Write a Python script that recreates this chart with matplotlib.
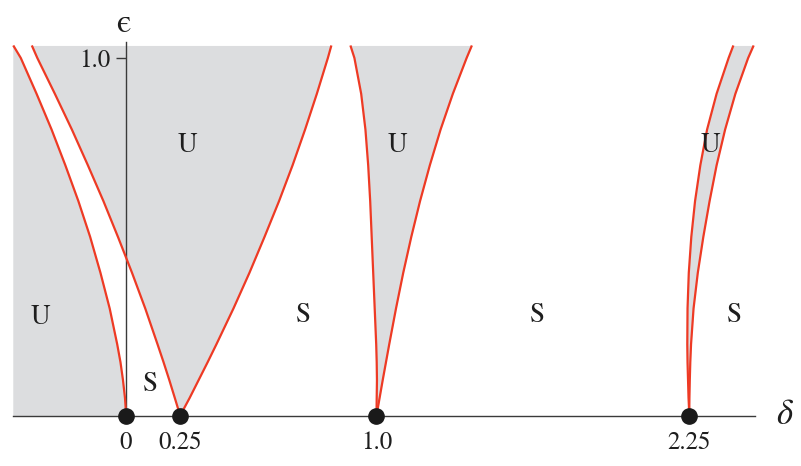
import matplotlib
matplotlib.use("Agg")
import matplotlib.pyplot as plt

plt.rcParams['font.family'] = ['STIXGeneral', 'DejaVu Serif']
plt.rcParams['mathtext.fontset'] = 'stix'

# --- data (delta values at each epsilon) ---
eps = [0, 0.02, 0.05, 0.1, 0.15, 0.2, 0.3, 0.4, 0.5, 0.6, 0.7, 0.8, 0.9, 1.0, 1.035]
curve_a = [0, -0.001, -0.004, -0.012, -0.022, -0.035, -0.065, -0.102, -0.143,
           -0.190, -0.242, -0.297, -0.357, -0.420, -0.450]                      # from 0
curve_b = [0.216, 0.208, 0.195, 0.173, 0.150, 0.126, 0.077, 0.024, -0.032,
           -0.090, -0.152, -0.216, -0.284, -0.354, -0.376]                      # 0.25 left
curve_c = [0.216, 0.231, 0.254, 0.290, 0.326, 0.361, 0.429, 0.493, 0.553,
           0.611, 0.665, 0.715, 0.762, 0.806, 0.820]                            # 0.25 right
curve_d = [1.0, 1.0005, 1.001, 1.002, 1.001, 0.999, 0.993, 0.987, 0.981,
           0.975, 0.967, 0.956, 0.939, 0.912, 0.896]                            # 1.0 left
curve_e = [1.0, 1.005, 1.0125, 1.025, 1.038, 1.051, 1.078, 1.107, 1.139,
           1.174, 1.213, 1.256, 1.305, 1.360, 1.381]                            # 1.0 right
curve_f = [2.249, 2.248, 2.246, 2.244, 2.242, 2.241, 2.242, 2.247, 2.257,
           2.272, 2.293, 2.320, 2.358, 2.406, 2.425]                            # 2.25 left
curve_g = [2.249, 2.249, 2.2495, 2.251, 2.253, 2.256, 2.266, 2.283, 2.305,
           2.330, 2.358, 2.392, 2.433, 2.484, 2.506]                            # 2.25 right

left_edge = -0.452
right_edge = 2.51

dot_x = [0, 0.216, 1.0, 2.249]
tick_labels = ['0', '0.25', '1.0', '2.25']

region_labels = ['U', 'S', 'U', 'S', 'U', 'S', 'U', 'S']
region_x = [-0.343, 0.096, 0.244, 0.707, 1.082, 1.641, 2.335, 2.431]
region_y = [0.274, 0.087, 0.757, 0.282, 0.757, 0.282, 0.757, 0.282]

gray = '#dcdddf'
red = '#ee3a24'
ink = '#1e1e1e'

fig = plt.figure(figsize=(8.01, 4.66), dpi=100)
ax = fig.add_axes([0, 0, 1, 1])
ax.set_xlim(-0.503, 2.695)
ax.set_ylim(-0.140, 1.162)

# shaded unstable regions
ax.fill_betweenx(eps, [left_edge] * len(eps), curve_a, color=gray, lw=0, zorder=1)
ax.fill_betweenx(eps, curve_b, curve_c, color=gray, lw=0, zorder=1)
ax.fill_betweenx(eps, curve_d, curve_e, color=gray, lw=0, zorder=1)
ax.fill_betweenx(eps, curve_f, curve_g, color=gray, lw=0, zorder=1)

# spines as coordinate axes
for s in ['top', 'right']:
    ax.spines[s].set_visible(False)
ax.spines['left'].set_position(('data', 0))
ax.spines['bottom'].set_position(('data', 0))
ax.spines['left'].set_bounds(0, 1.045)
ax.spines['bottom'].set_bounds(left_edge, right_edge)
for s in ['left', 'bottom']:
    ax.spines[s].set_color('#3a3a3a')
    ax.spines[s].set_linewidth(1.0)
    ax.spines[s].set_zorder(2)

# transition curves
for c in [curve_a, curve_b, curve_c, curve_d, curve_e, curve_f, curve_g]:
    ax.plot(c, eps, color=red, lw=1.6, zorder=3, solid_capstyle='butt',
            solid_joinstyle='round')

ax.plot(dot_x, [0] * len(dot_x), 'o', color='#1a1a1a', ms=11, zorder=5, clip_on=False)

ax.set_xticks(dot_x)
ax.set_xticklabels(tick_labels)
ax.tick_params(axis='x', length=0, pad=11, labelsize=18, labelcolor=ink)
ax.set_yticks([1.0])
ax.set_yticklabels(['1.0'])
ax.tick_params(axis='y', direction='out', length=7, width=1.0, color='#3a3a3a',
               pad=4, labelsize=18, labelcolor=ink)

for t, x, y in zip(region_labels, region_x, region_y):
    ax.text(x, y, t, fontsize=19.5, ha='center', va='center', color=ink, zorder=6)

ax.text(-0.012, 1.095, '\u03f5', fontsize=24, ha='center', va='center', color=ink,
        family=['STIXGeneral', 'DejaVu Serif'])
ax.text(2.63, 0.0, r'$\delta$', fontsize=25, ha='center', va='center', color=ink)

fig.savefig('out.png', dpi=100)
